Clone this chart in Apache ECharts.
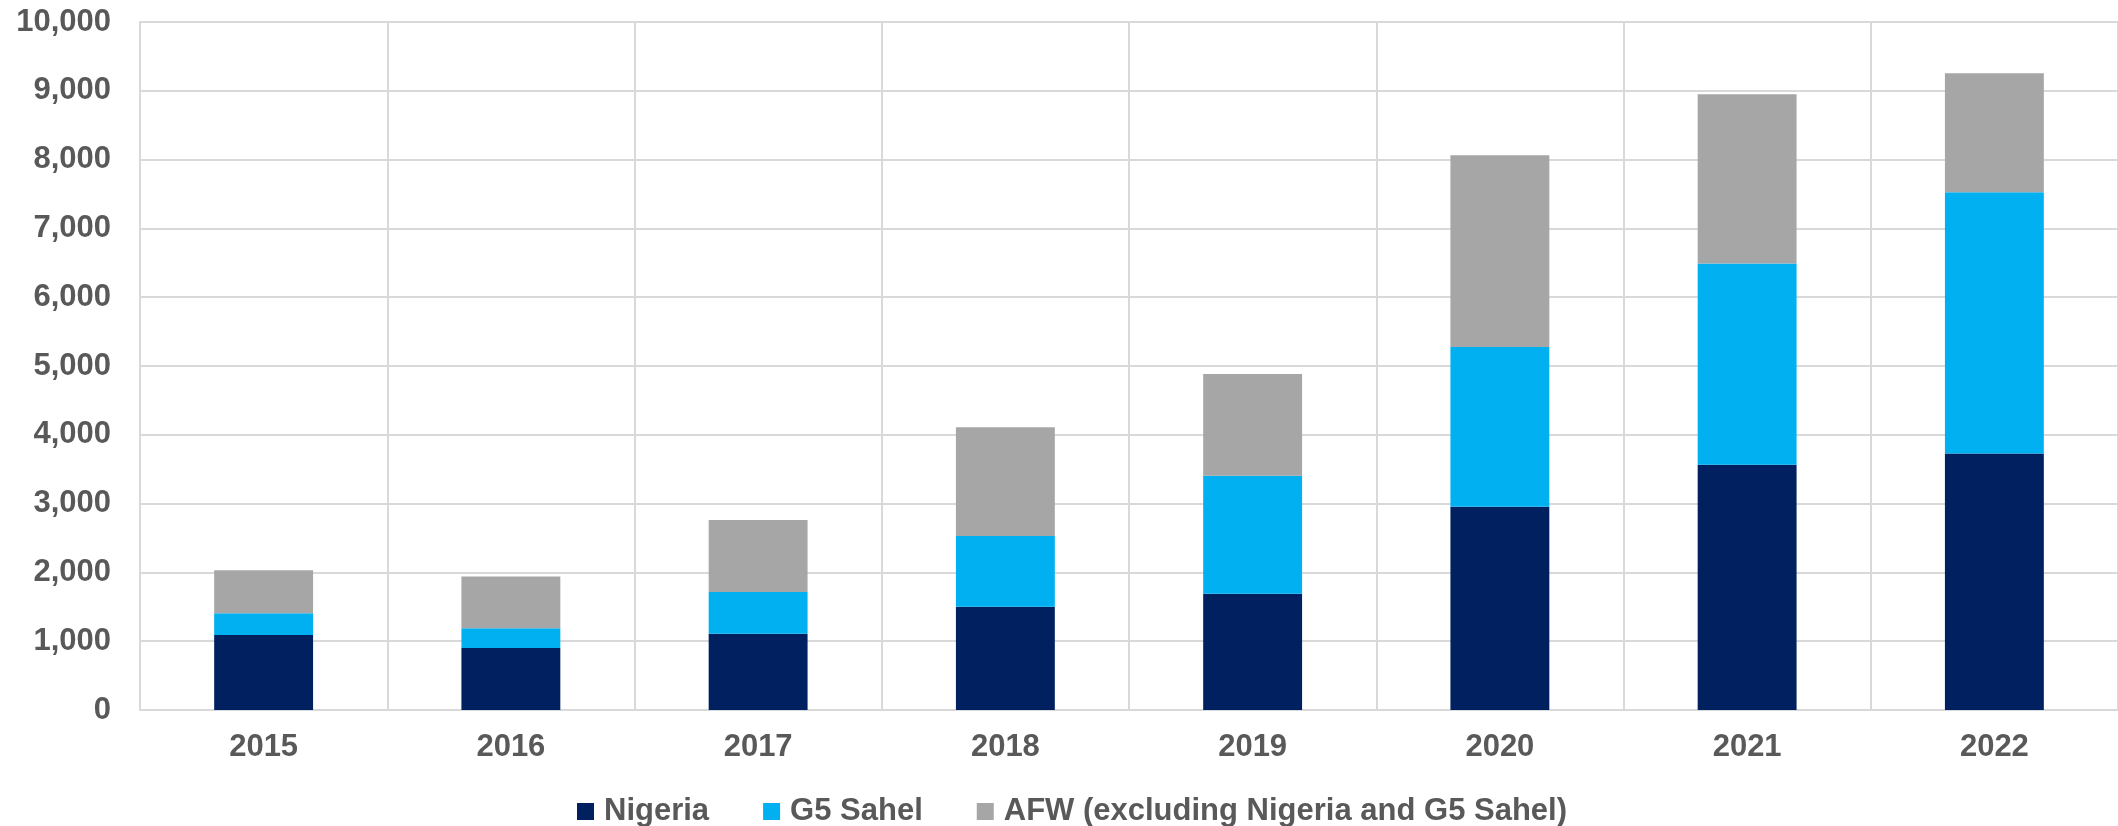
<!DOCTYPE html>
<html>
<head>
<meta charset="utf-8">
<style>
  html, body { margin: 0; padding: 0; background: #ffffff; }
  #chart { width: 2118px; height: 826px; }
</style>
<script src="https://cdn.jsdelivr.net/npm/echarts@6/dist/echarts.min.js"></script>
</head>
<body>
<div id="chart"></div>
<script>
// Years on the category axis
const years = ['2015', '2016', '2017', '2018', '2019', '2020', '2021', '2022'];

// Stacked values per group
const nigeria = [1090, 900, 1110, 1500, 1690, 2955, 3565, 3730];
const g5Sahel = [315, 290, 605, 1030, 1715, 2320, 2925, 3795];
const afwOther = [625, 750, 1045, 1580, 1480, 2790, 2460, 1730];

// Series names shown in the legend
const seriesNames = ['Nigeria', 'G5 Sahel', 'AFW (excluding Nigeria and G5 Sahel)'];

const textColor = '#595959';
const gridColor = '#d9d9d9';
const fontFamily = '"Liberation Sans", Arial, sans-serif';

const chart = echarts.init(document.getElementById('chart'), null, { renderer: 'canvas' });

const barSeries = (name, data, color) => ({
  name: name,
  type: 'bar',
  stack: 'total',
  data: data,
  barWidth: '40%',
  itemStyle: { color: color },
  emphasis: { disabled: true }
});

chart.setOption({
  animation: false,
  backgroundColor: '#ffffff',
  grid: { left: 140, top: 22, width: 1982, bottom: 116, containLabel: false },
  legend: {
    left: 572,
    top: 791,
    itemWidth: 17,
    itemHeight: 17,
    itemGap: 54,
    icon: 'rect',
    textStyle: {
      color: textColor,
      fontSize: 31,
      fontWeight: 'bold',
      fontFamily: fontFamily,
      padding: [0, 0, 0, 5]
    },
    data: seriesNames
  },
  xAxis: {
    type: 'category',
    data: years,
    boundaryGap: true,
    axisLine: { show: true, lineStyle: { color: gridColor, width: 2 } },
    axisTick: { show: false },
    splitLine: { show: true, lineStyle: { color: gridColor, width: 2 } },
    axisLabel: {
      color: textColor,
      fontSize: 31,
      fontWeight: 'bold',
      fontFamily: fontFamily,
      margin: 22
    }
  },
  yAxis: {
    type: 'value',
    min: 0,
    max: 10000,
    interval: 1000,
    axisLine: { show: true, lineStyle: { color: gridColor, width: 2 } },
    axisTick: { show: false },
    splitLine: { show: true, lineStyle: { color: gridColor, width: 2 } },
    axisLabel: {
      color: textColor,
      fontSize: 31,
      fontWeight: 'bold',
      fontFamily: fontFamily,
      margin: 29,
      formatter: v => v.toLocaleString('en-US')
    }
  },
  series: [
    barSeries(seriesNames[0], nigeria, '#002060'),
    barSeries(seriesNames[1], g5Sahel, '#00B0F0'),
    barSeries(seriesNames[2], afwOther, '#A6A6A6')
  ]
});
</script>
</body>
</html>
